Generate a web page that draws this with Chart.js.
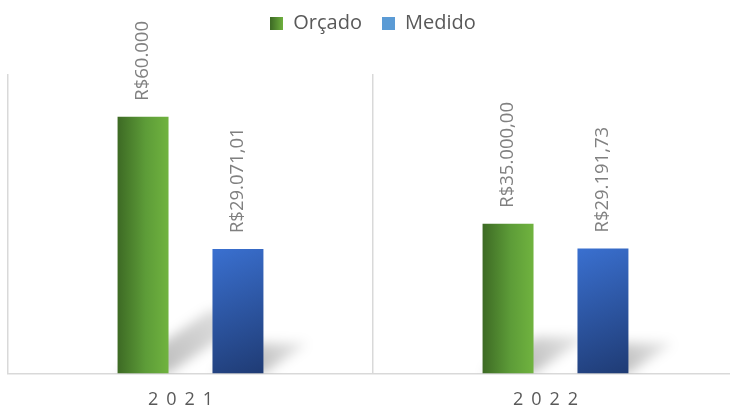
<!DOCTYPE html>
<html>
<head>
<meta charset="utf-8">
<script src="https://cdn.jsdelivr.net/npm/chart.js@4.4.1/dist/chart.umd.min.js"></script>
<style>
  html, body { margin: 0; padding: 0; background: #fff; overflow: hidden; }
  body { width: 730px; height: 409px; position: relative; }
  #budgetChart { position: absolute; left: 0; top: -7px; }
</style>
</head>
<body>
<canvas id="budgetChart" width="738" height="416"></canvas>
<script>
// Orçado x Medido por ano
const years = ['2021', '2022'];
const budgeted = [60000, 35000];
const measured = [29071.01, 29191.73];
const budgetedLabels = ['R$60.000', 'R$35.000,00'];
const measuredLabels = ['R$29.071,01', 'R$29.191,73'];
const yMax = 70000;

const FONT = '"Open Sans", "DejaVu Sans", sans-serif';

// small square icons for the legend
function legendIcon(paint) {
  const c = document.createElement('canvas');
  c.width = 13; c.height = 13;
  const g = c.getContext('2d');
  g.fillStyle = paint(g);
  g.fillRect(0, 0, 13, 13);
  return c;
}
const greenIcon = legendIcon(g => {
  const gr = g.createLinearGradient(0, 0, 13, 0);
  gr.addColorStop(0, '#3e6b25');
  gr.addColorStop(1, '#70b23f');
  return gr;
});
const blueIcon = legendIcon(() => '#5b9bd5');

// bar fills: green left->right, blue diagonal top-left -> bottom-right
function barFill(ctx, el, datasetIndex) {
  const L = el.x - el.width / 2, R = el.x + el.width / 2;
  if (datasetIndex === 0) {
    const g = ctx.createLinearGradient(L, 0, R, 0);
    g.addColorStop(0, '#3d6a24');
    g.addColorStop(0.55, '#5d9c38');
    g.addColorStop(1, '#70b33f');
    return g;
  }
  const g = ctx.createLinearGradient(L, el.y, R, el.base);
  g.addColorStop(0, '#3a70d0');
  g.addColorStop(1, '#1f3b74');
  return g;
}

const barStyle = {
  id: 'barStyle',
  afterInit(chart) {
    // extra room between the legend and the plot
    const fit = chart.legend.fit;
    chart.legend.fit = function () { fit.call(this); this.height += 31; };
  },
  beforeDatasetsDraw(chart) {
    const ctx = chart.ctx;
    const area = chart.chartArea;
    ctx.save();
    ctx.beginPath();
    ctx.rect(area.left, area.top, area.right - area.left, area.bottom - area.top);
    ctx.clip();
    ctx.filter = 'blur(6px)';
    chart.data.datasets.forEach((ds, di) => {
      chart.getDatasetMeta(di).data.forEach(el => {
        el.options = Object.assign({}, el.options, { backgroundColor: barFill(ctx, el, di) });
        // perspective shadow falling back to the upper right
        const h = el.base - el.y;
        const dx = h * 0.36, dy = h * 0.245;
        const L = el.x - el.width / 2, R = el.x + el.width / 2, B = el.base;
        const g = ctx.createLinearGradient(R, B, R + dx, B - dy);
        g.addColorStop(0, 'rgba(0,0,0,0.25)');
        g.addColorStop(1, 'rgba(0,0,0,0.08)');
        ctx.fillStyle = g;
        ctx.beginPath();
        ctx.moveTo(L, B);
        ctx.lineTo(R, B);
        ctx.lineTo(R + dx, B - dy);
        ctx.lineTo(L + dx, B - dy);
        ctx.closePath();
        ctx.fill();
      });
    });
    ctx.restore();
  },
  afterDatasetsDraw(chart) {
    const ctx = chart.ctx;
    ctx.save();
    ctx.font = '18.5px ' + FONT;
    ctx.fillStyle = '#808080';
    ctx.textAlign = 'left';
    ctx.textBaseline = 'middle';
    chart.data.datasets.forEach((ds, di) => {
      chart.getDatasetMeta(di).data.forEach((el, i) => {
        ctx.save();
        ctx.translate(el.x, el.y - 16);
        ctx.rotate(-Math.PI / 2);
        ctx.fillText(ds.valueLabels[i], 0, 0);
        ctx.restore();
      });
    });
    ctx.restore();
    // year labels are drawn after this (ticks z: 1) with wide spacing
    ctx.letterSpacing = '8px';
  },
  afterDraw(chart) {
    chart.ctx.letterSpacing = '0px';
  }
};

new Chart(document.getElementById('budgetChart'), {
  type: 'bar',
  data: {
    labels: years,
    datasets: [
      {
        label: 'Orçado',
        data: budgeted,
        valueLabels: budgetedLabels,
        backgroundColor: '#5d9c38',
        pointStyle: greenIcon,
        categoryPercentage: 0.52,
        barPercentage: 0.537
      },
      {
        label: 'Medido',
        data: measured,
        valueLabels: measuredLabels,
        backgroundColor: '#2f5aa8',
        pointStyle: blueIcon,
        categoryPercentage: 0.52,
        barPercentage: 0.537
      }
    ]
  },
  options: {
    responsive: false,
    animation: false,
    events: [],
    layout: { padding: { top: 0, left: 8, right: 0, bottom: -18 } },
    plugins: {
      tooltip: { enabled: false },
      legend: {
        position: 'top',
        labels: {
          usePointStyle: true,
          boxWidth: 13,
          boxHeight: 13,
          padding: 20,
          color: '#595959',
          font: { family: FONT, size: 20 }
        }
      }
    },
    scales: {
      x: {
        grid: { offset: true, color: '#d9d9d9', lineWidth: 1.5, drawTicks: false },
        border: { color: '#d9d9d9', width: 1.5 },
        ticks: { z: 1, padding: 16, labelOffset: -6, color: '#595959', font: { family: FONT, size: 18 } }
      },
      y: {
        display: false,
        min: 0,
        max: yMax
      }
    }
  },
  plugins: [barStyle]
});
</script>
</body>
</html>
